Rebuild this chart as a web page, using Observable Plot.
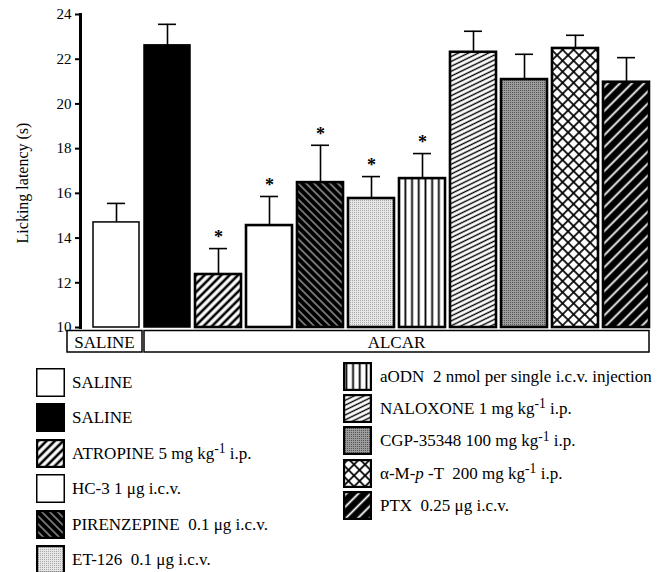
<!DOCTYPE html>
<html><head><meta charset="utf-8">
<script src="https://cdn.jsdelivr.net/npm/d3@7"></script>
<script src="https://cdn.jsdelivr.net/npm/@observablehq/plot@0.6"></script>
<style>
body{margin:0;background:#fff;font-family:"Liberation Serif","Times New Roman",serif;}
#wrap{position:relative;width:666px;height:572px;overflow:hidden;}
#chart svg{display:block;overflow:visible}
#legend{position:absolute;left:0;top:0;width:666px;height:572px;}
.item{position:absolute;display:flex;align-items:center;font-size:17px;white-space:pre;color:#000;line-height:1}
.item svg{flex:none;display:block}
.item span{display:block}
sup{font-size:0.8em;vertical-align:0;position:relative;top:-0.42em;line-height:0}
</style></head><body>
<svg width="0" height="0" style="position:absolute"><defs>
<pattern id="p-atropine" width="5.9" height="10" patternUnits="userSpaceOnUse" patternTransform="rotate(45)"><rect width="5.9" height="10" fill="#fff"/><line x1="2.9" y1="0" x2="2.9" y2="10" stroke="#000" stroke-width="2.6"/></pattern>
<pattern id="p-pirenzepine" width="5.6" height="10" patternUnits="userSpaceOnUse" patternTransform="rotate(-45)"><rect width="5.6" height="10" fill="#000"/><line x1="2.8" y1="0" x2="2.8" y2="10" stroke="#fff" stroke-width="0.9"/></pattern>
<pattern id="p-et" width="2" height="2" patternUnits="userSpaceOnUse"><rect width="2" height="2" fill="#e6e6e6"/><rect width="1" height="1" fill="#aaa"/></pattern>
<pattern id="p-aodn" width="6.7" height="10" patternUnits="userSpaceOnUse"><rect width="6.7" height="10" fill="#fff"/><line x1="3.35" y1="0" x2="3.35" y2="10" stroke="#000" stroke-width="1.8"/></pattern>
<pattern id="p-naloxone" width="4.4" height="10" patternUnits="userSpaceOnUse" patternTransform="rotate(64)"><rect width="4.4" height="10" fill="#fff"/><line x1="2.2" y1="0" x2="2.2" y2="10" stroke="#000" stroke-width="1.4"/></pattern>
<pattern id="p-cgp" width="2" height="2" patternUnits="userSpaceOnUse"><rect width="2" height="2" fill="#9c9c9c"/><rect width="1" height="1" fill="#555"/></pattern>
<pattern id="p-ampt" width="7.8" height="7.8" patternUnits="userSpaceOnUse" patternTransform="rotate(45)"><rect width="7.8" height="7.8" fill="#fff"/><line x1="3.9" y1="0" x2="3.9" y2="7.8" stroke="#000" stroke-width="1.7"/><line x1="0" y1="3.9" x2="7.8" y2="3.9" stroke="#000" stroke-width="1.7"/></pattern>
<pattern id="p-ptx" width="8.5" height="10" patternUnits="userSpaceOnUse" patternTransform="rotate(45)"><rect width="8.5" height="10" fill="#000"/><line x1="4.25" y1="0" x2="4.25" y2="10" stroke="#fff" stroke-width="1.8"/></pattern>
</defs></svg>
<div id="wrap"><div id="chart"></div><div id="legend"></div></div>
<script>
// ---- data ----
const categories = ["SALINE", "ALCAR SALINE", "ATROPINE", "HC-3", "PIRENZEPINE", "ET-126", "aODN", "NALOXONE", "CGP-35348", "α-M-p-T", "PTX"];
const means = [14.70, 22.62, 12.37, 14.56, 16.48, 15.77, 16.66, 22.31, 21.09, 22.48, 20.97];
const upperErr = [15.55, 23.56, 13.53, 15.86, 18.15, 16.75, 17.78, 23.25, 22.22, 23.07, 22.07];
const stars = ["", "", "*", "*", "*", "*", "*", "", "", "", ""];
const yTicks = [10, 12, 14, 16, 18, 20, 22, 24];
const yLabel = "Licking latency (s)";
const groupLabels = ["SALINE", "ALCAR"];
const groupFirst = [0, 1];
const groupLast = [0, 10];
const legendLabels = [
  "SALINE",
  "SALINE",
  "ATROPINE 5 mg kg<sup>-1</sup> i.p.",
  "HC-3 1 μg i.c.v.",
  "PIRENZEPINE  0.1 μg i.c.v.",
  "ET-126  0.1 μg i.c.v.",
  "aODN  2 nmol per single i.c.v. injection",
  "NALOXONE 1 mg kg<sup>-1</sup> i.p.",
  "CGP-35348 100 mg kg<sup>-1</sup> i.p.",
  "α-M-<i>p</i> -T  200 mg kg<sup>-1</sup> i.p.",
  "PTX  0.25 μg i.c.v."
];
// fill style for each category (patterns defined above)
const fills = ["#fff", "#000", "url(#p-atropine)", "#fff", "url(#p-pirenzepine)", "url(#p-et)", "url(#p-aodn)", "url(#p-naloxone)", "url(#p-cgp)", "url(#p-ampt)", "url(#p-ptx)"];

const data = categories.map((c, i) => ({cat: c, mean: means[i], upper: upperErr[i], star: stars[i], i}));
const FONT = "Liberation Serif, Times New Roman, serif";

const chart = Plot.plot({
  width: 666,
  height: 356,
  marginTop: 14,
  marginBottom: 29,
  marginLeft: 80,
  marginRight: 5,
  style: {fontFamily: FONT, background: "#fff", color: "#000"},
  x: {domain: categories, paddingInner: 0.1, paddingOuter: 0.235, axis: null},
  y: {domain: [10, 24], axis: null},
  color: {domain: categories, range: fills},
  marks: [
    Plot.ruleX(data, {x: "cat", y1: "mean", y2: "upper", stroke: "#000", strokeWidth: 1.6}),
    Plot.tickY(data, {x: "cat", y: "upper", stroke: "#000", strokeWidth: 1.6, insetLeft: 14, insetRight: 14}),
    Plot.barY(data, {x: "cat", y1: d => 10, y2: "mean", fill: "cat", stroke: "#000",
      strokeWidth: d => d.i < 2 ? 1.5 : 2.6}),
    Plot.text(data.filter(d => d.star), {x: "cat", y: "upper", text: "star", dy: -11, fontSize: 18, fontWeight: "bold", fill: "#000"}),
    Plot.axisY({ticks: yTicks, tickSize: 5, tickPadding: 4, fontSize: 15, strokeWidth: 2, label: null}),
    Plot.frame({anchor: "left", strokeWidth: 3}),
    Plot.text([yLabel], {frameAnchor: "left", textAnchor: "middle", rotate: -90, dx: -58, dy: 12, fontSize: 16, fill: "#000"})
  ]
});
document.getElementById("chart").appendChild(chart);

// group label boxes below the axis, positioned with the plot's x scale
const xs = chart.scale("x");
const bw = xs.bandwidth;
const svg = d3.select(chart);
groupLabels.forEach((g, k) => {
  const x0 = k === 0 ? xs.apply(categories[groupFirst[k]]) - 26 : xs.apply(categories[groupFirst[k]]);
  const x1 = k === 0 ? xs.apply(categories[groupFirst[k + 1]]) - 2 : xs.apply(categories[groupLast[k]]) + bw;
  svg.append("rect").attr("x", x0).attr("y", 330.5).attr("width", x1 - x0).attr("height", 21.5)
    .attr("fill", "#fff").attr("stroke", "#000").attr("stroke-width", 1.5);
  svg.append("text").attr("x", (x0 + x1) / 2).attr("y", 347.5).attr("text-anchor", "middle")
    .attr("font-size", 17).attr("font-family", FONT).attr("fill", "#000").text(g);
});

// legend
const legend = document.getElementById("legend");
legendLabels.forEach((lab, i) => {
  const left = i < 6;
  const x = left ? 36 : 343;
  const y = left ? 368 + i * 35.4 : 362 + (i - 6) * 32.2;
  const item = document.createElement("div");
  item.className = "item";
  item.style.left = x + "px";
  item.style.top = y + "px";
  const sw = i < 2 || i === 3 ? 1.5 : 2.2;
  item.innerHTML = `<svg width="29" height="29"><rect x="${sw/2}" y="${sw/2}" width="${29-sw}" height="${29-sw}" fill="${fills[i]}" stroke="#000" stroke-width="${sw}"/></svg><span style="margin-left:${left ? 7 : 8}px">${lab}</span>`;
  legend.appendChild(item);
});
</script>
</body></html>
